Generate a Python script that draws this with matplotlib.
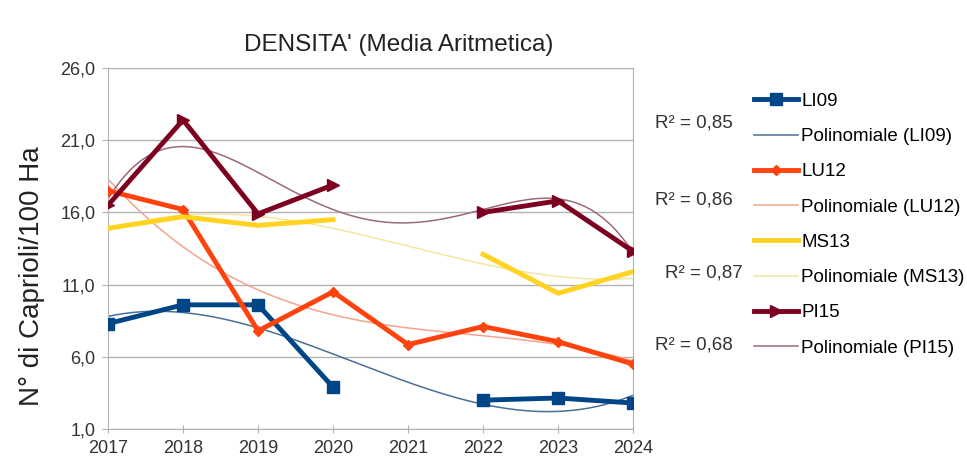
import matplotlib.pyplot as plt
import numpy as np

plt.rcParams['font.family'] = ['Liberation Sans', 'DejaVu Sans']

years = [2017, 2018, 2019, 2020, 2021, 2022, 2023, 2024]
nan = np.nan

li09 = [8.3, 9.6, 9.6, 3.9, nan, 3.0, 3.15, 2.8]
lu12 = [17.5, 16.2, 7.8, 10.5, 6.85, 8.1, 7.05, 5.5]
ms13 = [14.9, 15.7, 15.1, 15.5, nan, 13.1, 10.4, 11.9]
pi15 = [16.5, 22.4, 15.9, 17.9, nan, 16.0, 16.8, 13.3]

legend_names = ['LI09', 'LU12', 'MS13', 'PI15']
r2_labels = ['0,85', '0,86', '0,87', '0,68']
poly_deg = [3, 3, 3, 4]

colors = ['#004586', '#ff420e', '#ffd320', '#7e0021']
trend_colors = ['#4a6f96', '#f2a58a', '#f3e6a0', '#9a6a7c']
markers = ['s', 'D', None, '>']
msizes = [8, 5, 0, 9]

fig = plt.figure(figsize=(9.67, 4.72), dpi=100)
ax = fig.add_axes([0.1117, 0.091, 0.543, 0.765])

x = np.array(years, dtype=float)
xs = np.linspace(2017, 2024, 200)
handles = []
for i, data in enumerate([li09, lu12, ms13, pi15]):
    y = np.array(data, dtype=float)
    ok = ~np.isnan(y)
    # polynomial trend fitted on the available years only
    coef = np.polyfit(x[ok] - 2017, y[ok], poly_deg[i])
    tr, = ax.plot(xs, np.polyval(coef, xs - 2017), color=trend_colors[i], lw=1.1, zorder=2)
    ln, = ax.plot(x, y, color=colors[i], lw=3.5, marker=markers[i], ms=msizes[i],
                  mec=colors[i], mfc=colors[i], zorder=3)
    handles += [ln, tr]

labels = []
for n in legend_names:
    labels += [n, 'Polinomiale (%s)' % n]

ax.set_xlim(2017, 2024)
ax.set_ylim(1, 26)
ax.set_yticks([1, 6, 11, 16, 21, 26])
ax.set_yticklabels(['1,0', '6,0', '11,0', '16,0', '21,0', '26,0'])
ax.set_xticks(years)
ax.grid(axis='y', color='#b3b3b3', lw=1)
ax.set_axisbelow(True)
for s in ax.spines.values():
    s.set_color('#b3b3b3')
ax.tick_params(axis='both', colors='#b3b3b3', labelcolor='#333333', labelsize=13, length=4)
ax.tick_params(axis='x', direction='inout', length=6, pad=5)
ax.tick_params(axis='y', pad=5)

fig.text(0.412, 1 - 45 / 472, "DENSITA' (Media Aritmetica)", fontsize=17.5,
         color='#222222', ha='center', va='center')
fig.text(32 / 967, 1 - 276 / 472, 'N° di Caprioli/100 Ha', fontsize=20,
         color='#222222', ha='center', va='center', rotation=90)

fig.legend(handles, labels, loc='upper left', bbox_to_anchor=(0.772, 0.819),
           frameon=False, fontsize=13.5, handlelength=2.35, labelspacing=0.965,
           handletextpad=0.16, borderaxespad=0)

r2_x = [0.677, 0.677, 0.688, 0.677]
r2_y = [0.739, 0.576, 0.422, 0.269]
for lbl, xx, yy in zip(r2_labels, r2_x, r2_y):
    fig.text(xx, yy, 'R² = ' + lbl, fontsize=13.5, color='#333333', va='center')

fig.savefig('out.png', dpi=100)
